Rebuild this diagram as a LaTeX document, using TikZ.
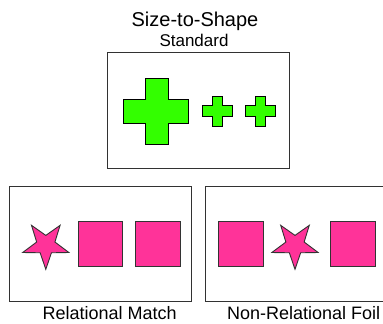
\documentclass[tikz,border=0pt]{standalone}
\usepackage{fontspec}
\setmainfont{Liberation Sans}
\definecolor{crossgreen}{RGB}{51,255,0}
\definecolor{shapepink}{RGB}{255,51,153}
\definecolor{boxgray}{RGB}{50,50,50}
\begin{document}
\begin{tikzpicture}[x=1pt,y=-1pt,
  panel/.style={draw=boxgray,line width=1pt,fill=white},
  greenshape/.style={draw=black,line width=0.9pt,fill=crossgreen},
  pinkshape/.style={draw=black!80,line width=0.9pt,fill=shapepink,line join=miter},
  lbl/.style={inner sep=0pt,anchor=base}]
\useasboundingbox (0,0) rectangle (383,324);
% titles
\node[lbl,font=\fontsize{20}{22}\selectfont] (title) at (195,27) {Size-to-Shape};
\node[lbl,font=\fontsize{17}{19}\selectfont] (std) at (194,46) {Standard};
% panels
\draw[panel] (107,52) rectangle (289,168);
\draw[panel] (9,186) rectangle (191,301);
\draw[panel] (205,186) rectangle (395,301);
% crosses
\draw[greenshape] (145,78) -- (168,78) -- (168,99) -- (188,99) -- (188,123) -- (168,123) -- (168,144) -- (145,144) -- (145,123) -- (123,123) -- (123,99) -- (145,99) -- cycle;
\draw[greenshape] (212,96) -- (222,96) -- (222,105) -- (232,105) -- (232,116) -- (222,116) -- (222,126) -- (212,126) -- (212,116) -- (202,116) -- (202,105) -- (212,105) -- cycle;
\draw[greenshape] (255,96) -- (265,96) -- (265,105) -- (275,105) -- (275,116) -- (265,116) -- (265,126) -- (255,126) -- (255,116) -- (245,116) -- (245,105) -- (255,105) -- cycle;
% left panel shapes
\draw[pinkshape] (45.8,245)
  +(90:24.3) -- +(126:9.6) -- +(162:24.3) -- +(198:9.6) -- +(234:24.3)
  -- +(270:9.6) -- +(306:24.3) -- +(342:9.6) -- +(18:24.3) -- +(54:9.6) -- cycle;
\draw[pinkshape] (78,221) rectangle (122,266);
\draw[pinkshape] (135,221) rectangle (180,266);
% right panel shapes
\draw[pinkshape] (218,221) rectangle (263,266);
\draw[pinkshape] (295,245)
  +(90:24.3) -- +(126:9.6) -- +(162:24.3) -- +(198:9.6) -- +(234:24.3)
  -- +(270:9.6) -- +(306:24.3) -- +(342:9.6) -- +(18:24.3) -- +(54:9.6) -- cycle;
\draw[pinkshape] (330,221) rectangle (375,266);
% labels
\node[lbl,font=\fontsize{18}{20}\selectfont] (rm) at (109.7,319) {Relational Match};
\node[lbl,font=\fontsize{18}{20}\selectfont] (nrf) at (303.7,319) {Non-Relational Foil};
\end{tikzpicture}
\end{document}
